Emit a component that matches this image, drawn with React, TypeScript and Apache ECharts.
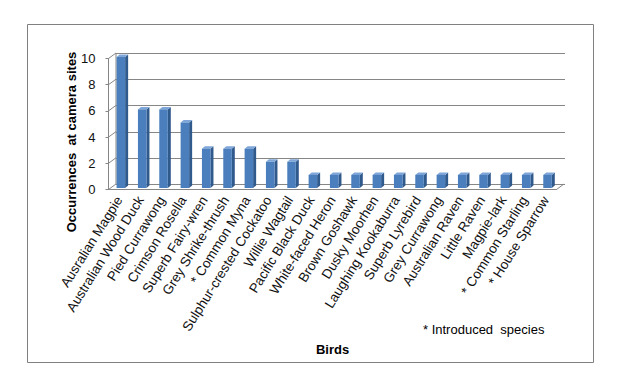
import React, { useEffect, useRef } from "react";
import * as echarts from "echarts";

const categories = [
  "Ausralian Magpie",
  "Australian Wood Duck",
  "Pied Currawong",
  "Crimson Rosella",
  "Superb Fairy-wren",
  "Grey Shrike-thrush",
  "* Common Myna",
  "Sulphur-crested Cockatoo",
  "Willie Wagtail",
  "Pacific Black Duck",
  "White-faced Heron",
  "Brown Goshawk",
  "Dusky Moorhen",
  "Laughing Kookaburra",
  "Superb Lyrebird",
  "Grey Currawong",
  "Australian Raven",
  "Little Raven",
  "Magpie-lark",
  "* Common Starling",
  "* House Sparrow",
];
const occurrences = [10, 6, 6, 5, 3, 3, 3, 2, 2, 1, 1, 1, 1, 1, 1, 1, 1, 1, 1, 1, 1];
const yTicks = [0, 2, 4, 6, 8, 10];

const yTitle = "Occurrences  at camera sites";
const xTitle = "Birds";
const note = "* Introduced  species";

export default function App() {
  const ref = useRef<HTMLDivElement>(null);
  useEffect(() => {
    const chart = echarts.init(ref.current!, null, { renderer: "svg" });
    const depthX = 7.5;
    const depthY = -5.5;
    const gridColor = "#868686";
    const font = "'Liberation Sans', Arial, sans-serif";

    const wallRender = (params: any, api: any) => {
      const v = api.value(1);
      const p = api.coord([0, v]);
      const bw = api.size([1, 0])[0];
      const x0 = p[0] - bw / 2;
      const children: any[] = [
        {
          type: "line",
          shape: { x1: x0, y1: p[1], x2: x0 + depthX, y2: p[1] + depthY },
          style: { stroke: gridColor, lineWidth: 1 },
        },
      ];
      if (v === 0) {
        const pe = api.coord([categories.length - 1, 0]);
        const xe = pe[0] + bw / 2;
        children.push({
          type: "line",
          shape: { x1: xe, y1: pe[1], x2: xe + depthX, y2: pe[1] + depthY },
          style: { stroke: gridColor, lineWidth: 1 },
        });
        const pt = api.coord([0, 10]);
        children.push({
          type: "line",
          shape: { x1: x0 + depthX, y1: p[1] + depthY, x2: x0 + depthX, y2: pt[1] + depthY },
          style: { stroke: gridColor, lineWidth: 1 },
        });
      }
      return { type: "group", children };
    };

    const barRender = (params: any, api: any) => {
      const i = api.value(0);
      const v = api.value(1);
      const top = api.coord([i, v]);
      const base = api.coord([i, 0]);
      const bw = api.size([1, 0])[0];
      const w = bw * 0.4;
      const cx = top[0] + 1.7;
      const left = cx - w / 2;
      const shift = -1.5;
      const yT = top[1] + shift;
      const yB = base[1] + shift;
      const d = 3;
      const dy = 2.5;
      return {
        type: "group",
        children: [
          {
            type: "polygon",
            shape: {
              points: [
                [left + w, yT],
                [left + w + d, yT - dy],
                [left + w + d, yB - dy],
                [left + w, yB],
              ],
            },
            style: { fill: "#30598C" },
          },
          {
            type: "polygon",
            shape: {
              points: [
                [left, yT],
                [left + d, yT - dy],
                [left + w + d, yT - dy],
                [left + w, yT],
              ],
            },
            style: { fill: "#7FA6D8" },
          },
          {
            type: "rect",
            shape: { x: left, y: yT, width: w, height: yB - yT },
            style: { fill: "#4A7EBD" },
          },
        ],
      };
    };

    chart.setOption({
      animation: false,
      backgroundColor: "#ffffff",
      textStyle: { fontFamily: font },
      grid: [
        { left: 116, right: 60, top: 53.5, height: 130.5 },
        { left: 108.5, right: 68.5, top: 58.5, height: 131 },
      ],
      xAxis: [
        { gridIndex: 0, type: "value", min: 0, max: 1, show: false },
        {
          gridIndex: 1,
          type: "category",
          data: categories,
          axisLine: { lineStyle: { color: gridColor } },
          axisTick: { length: 4, lineStyle: { color: gridColor } },
          axisLabel: {
            rotate: 58,
            interval: 0,
            margin: 8,
            fontSize: 13.5,
            color: "#111",
            fontFamily: font,
          },
        },
      ],
      yAxis: [
        {
          gridIndex: 0,
          type: "value",
          min: 0,
          max: 10,
          interval: 2,
          axisLabel: { show: false },
          axisLine: { show: false },
          axisTick: { show: false },
          splitLine: { lineStyle: { color: gridColor, width: 1 } },
        },
        {
          gridIndex: 1,
          type: "value",
          min: 0,
          max: 10,
          interval: 2,
          axisLine: { show: true, lineStyle: { color: gridColor } },
          axisTick: { show: true, length: 3, lineStyle: { color: gridColor } },
          splitLine: { show: false },
          axisLabel: {
            fontSize: 13,
            color: "#111",
            margin: 13,
            fontFamily: "'Liberation Sans Narrow', 'Liberation Sans', Arial, sans-serif",
          },
        },
      ],
      series: [
        {
          type: "custom",
          xAxisIndex: 1,
          yAxisIndex: 1,
          data: yTicks.map((v) => [0, v]),
          renderItem: wallRender,
          silent: true,
          z: 1,
        },
        {
          type: "custom",
          xAxisIndex: 1,
          yAxisIndex: 1,
          data: occurrences.map((v, i) => [i, v]),
          renderItem: barRender,
          z: 3,
        },
      ],
      graphic: [
        {
          type: "rect",
          shape: { x: 27.5, y: 24.5, width: 566, height: 338 },
          style: { fill: "none", stroke: "#808080", lineWidth: 1 },
          z: 0,
        },
        {
          type: "text",
          x: 71,
          y: 142,
          rotation: Math.PI / 2,
          style: {
            text: yTitle,
            font: `bold 13px ${font}`,
            fill: "#000",
            align: "center",
            verticalAlign: "middle",
          },
        },
        {
          type: "text",
          x: 332.5,
          y: 349.5,
          style: {
            text: xTitle,
            font: `bold 13px ${font}`,
            fill: "#000",
            align: "center",
            verticalAlign: "middle",
          },
        },
        {
          type: "text",
          x: 423,
          y: 329.5,
          style: {
            text: note,
            font: `13px ${font}`,
            fill: "#000",
            align: "left",
            verticalAlign: "middle",
          },
        },
      ],
    });
    return () => chart.dispose();
  }, []);
  return (
    <div
      ref={ref}
      style={{ position: "fixed", left: 0, top: 0, width: 625, height: 389 }}
    />
  );
}
